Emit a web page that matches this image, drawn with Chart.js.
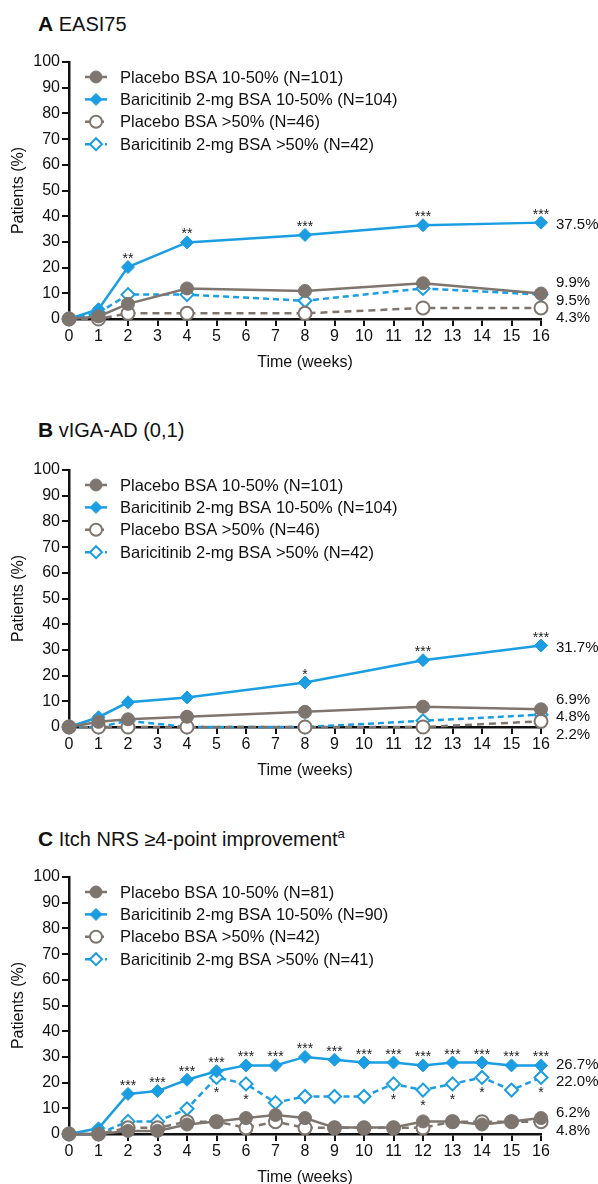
<!DOCTYPE html>
<html>
<head>
<meta charset="utf-8">
<script src="https://cdn.jsdelivr.net/npm/chart.js@4.4.1/dist/chart.umd.min.js"></script>
<style>
  body { margin: 0; background: #fff; font-family: "Liberation Sans", Arial, sans-serif; }
  #wrap { position: relative; width: 598px; height: 1184px; }
  .ttl { position: absolute; left: 38px; font-size: 20px; line-height: 24px; color: #111; white-space: nowrap; }
  .ttl b { font-size: 21px; }
  .ttl sup { font-size: 13px; }
  canvas { position: absolute; left: 0; }
</style>
</head>
<body>
<div id="wrap">
  <div class="ttl" style="top:12px"><b>A</b> EASI75</div>
  <canvas id="cA" width="598" height="339" style="top:40px"></canvas>
  <div class="ttl" style="top:418px"><b>B</b> vIGA-AD (0,1)</div>
  <canvas id="cB" width="598" height="339" style="top:448px"></canvas>
  <div class="ttl" style="top:822px"><b>C</b> Itch NRS ≥4-point improvement<sup>a</sup></div>
  <canvas id="cC" width="598" height="339" style="top:855px"></canvas>
</div>
<script>
const weeksAB = [0, 1, 2, 4, 8, 12, 16];
const weeksC = [0, 1, 2, 3, 4, 5, 6, 7, 8, 9, 10, 11, 12, 13, 14, 15, 16];

// A: EASI75
const easiPlacebo1050 = [0, 1.0, 5.9, 11.9, 10.9, 13.9, 9.9];
const easiBari1050 = [0, 3.8, 20.2, 29.8, 32.7, 36.5, 37.5];
const easiPlacebo50 = [0, 0, 2.2, 2.2, 2.2, 4.3, 4.3];
const easiBari50 = [0, 2.4, 9.5, 9.5, 7.1, 11.9, 9.5];
const easiStars = ['', '', '**', '**', '***', '***', '***'];
const easiLegend = ['Placebo BSA 10-50% (N=101)', 'Baricitinib 2-mg BSA 10-50% (N=104)',
  'Placebo BSA >50% (N=46)', 'Baricitinib 2-mg BSA >50% (N=42)'];

// B: vIGA-AD (0,1)
const igaPlacebo1050 = [0, 2.0, 3.0, 4.0, 5.9, 7.9, 6.9];
const igaBari1050 = [0, 3.8, 9.6, 11.5, 17.3, 26.0, 31.7];
const igaPlacebo50 = [0, 0, 0, 0, 0, 0, 2.2];
const igaBari50 = [0, 0, 2.4, 0, 0, 2.4, 4.8];
const igaStars = ['', '', '', '', '*', '***', '***'];
const igaLegend = easiLegend;

// C: Itch NRS >=4-point improvement
const itchPlacebo1050 = [0, 0, 1.2, 1.2, 3.7, 4.9, 6.2, 7.4, 6.2, 2.5, 2.5, 2.5, 4.9, 4.9, 3.7, 4.9, 6.2];
const itchBari1050 = [0, 2.2, 15.6, 16.7, 21.1, 24.4, 26.7, 26.7, 30.0, 28.9, 27.8, 27.8, 26.7, 27.8, 27.8, 26.7, 26.7];
const itchPlacebo50 = [0, 0, 2.4, 2.4, 4.8, 4.8, 2.4, 4.8, 2.4, 2.4, 2.4, 2.4, 2.4, 4.8, 4.8, 4.8, 4.8];
const itchBari50 = [0, 0, 4.9, 4.9, 9.8, 22.0, 19.5, 12.2, 14.6, 14.6, 14.6, 19.5, 17.1, 19.5, 22.0, 17.1, 22.0];
const itchStars = ['', '', '***', '***', '***', '***', '***', '***', '***', '***', '***', '***', '***', '***', '***', '***', '***'];
const itchStarsLow = ['', '', '', '', '', '*', '*', '', '', '', '', '*', '*', '*', '*', '', '*'];
const itchLegend = ['Placebo BSA 10-50% (N=81)', 'Baricitinib 2-mg BSA 10-50% (N=90)',
  'Placebo BSA >50% (N=42)', 'Baricitinib 2-mg BSA >50% (N=41)'];

const GRAY = '#7e756f';
const BLUE = '#1b9de2';
const FONT = '"Liberation Sans", Arial, sans-serif';
Chart.defaults.font.family = FONT;
Chart.defaults.color = '#111';

function pts(xs, ys) { return xs.map((x, i) => ({ x: x, y: ys[i] })); }

// keep the end-of-line labels from overlapping
function spread(items, gap) {
  items.sort((a, b) => a.y - b.y);
  let groups = items.map(it => ({ items: [it], c: it.y }));
  let merged = true;
  while (merged) {
    merged = false;
    for (let i = 0; i < groups.length - 1; i++) {
      const g1 = groups[i], g2 = groups[i + 1];
      const bot = g1.c + (g1.items.length - 1) * gap / 2;
      const top = g2.c - (g2.items.length - 1) * gap / 2;
      if (top - bot < gap) {
        const all = g1.items.concat(g2.items);
        const c = all.reduce((s, it) => s + it.y, 0) / all.length;
        groups.splice(i, 2, { items: all, c: c });
        merged = true;
        break;
      }
    }
  }
  groups.forEach(g => g.items.forEach((it, k) => { it.ly = g.c + (k - (g.items.length - 1) / 2) * gap; }));
}

const deco = {
  id: 'deco',
  afterDatasetsDraw(chart, args, o) {
    const { ctx, chartArea: a, scales: { x, y } } = chart;
    const sets = chart.data.datasets;
    ctx.save();

    // significance stars
    ctx.fillStyle = '#222';
    ctx.font = '14px ' + FONT;
    ctx.textAlign = 'center';
    ctx.textBaseline = 'alphabetic';
    o.starsAbove.forEach((s, i) => {
      if (!s) return;
      const p = sets[1].data[i];
      ctx.fillText(s, x.getPixelForValue(p.x), y.getPixelForValue(p.y) - 4);
    });
    (o.starsBelow || []).forEach((s, i) => {
      if (!s) return;
      const p = sets[3].data[i];
      ctx.fillText(s, x.getPixelForValue(p.x), y.getPixelForValue(p.y) + 20);
    });

    // end-of-line values
    const ends = sets.map(ds => {
      const last = ds.data[ds.data.length - 1];
      return { v: last.y, y: y.getPixelForValue(last.y) };
    });
    spread(ends, 17.5);
    ctx.fillStyle = '#111';
    ctx.font = '15px ' + FONT;
    ctx.textAlign = 'left';
    ctx.textBaseline = 'middle';
    ends.forEach(e => ctx.fillText(e.v.toFixed(1) + '%', a.right + 15, e.ly + 2));

    // legend in the upper left of the plot
    sets.forEach((ds, i) => {
      const ry = a.top + 15 + i * 22.4;
      const x0 = a.left + 16, x1 = a.left + 38, cx = (x0 + x1) / 2;
      ctx.strokeStyle = ds.borderColor;
      ctx.lineWidth = 2.5;
      ctx.setLineDash(ds.borderDash || []);
      ctx.beginPath();
      ctx.moveTo(x0, ry);
      ctx.lineTo(x1, ry);
      ctx.stroke();
      ctx.setLineDash([]);
      ctx.fillStyle = ds.pointBackgroundColor;
      ctx.strokeStyle = ds.pointBorderColor;
      ctx.lineWidth = ds.pointBorderWidth;
      Chart.helpers.drawPoint(ctx, {
        pointStyle: ds.pointStyle, radius: ds.pointRadius - 0.5, borderWidth: ds.pointBorderWidth, rotation: 0
      }, cx, ry);
      ctx.fillStyle = '#111';
      ctx.font = '16.5px ' + FONT;
      ctx.textAlign = 'left';
      ctx.textBaseline = 'middle';
      ctx.fillText(o.legend[i], a.left + 51, ry + 1);
    });
    ctx.restore();
  }
};

function series(xs, ys, kind) {
  const blue = kind === 'bari1050' || kind === 'bari50';
  const open = kind === 'placebo50' || kind === 'bari50';
  const col = blue ? BLUE : GRAY;
  return {
    data: pts(xs, ys),
    borderColor: col,
    borderWidth: 2.5,
    borderDash: open ? (blue ? [6, 4] : [7, 5]) : [],
    pointStyle: blue ? 'rectRot' : 'circle',
    pointRadius: 6.5,
    pointBackgroundColor: open ? '#fff' : col,
    pointBorderColor: col,
    pointBorderWidth: open ? 2 : 1,
    tension: 0,
    clip: false
  };
}

function makeChart(id, xs, p1050, b1050, p50, b50, legend, starsAbove, starsBelow) {
  new Chart(document.getElementById(id), {
    type: 'line',
    data: {
      datasets: [
        series(xs, p1050, 'placebo1050'),
        series(xs, b1050, 'bari1050'),
        series(xs, p50, 'placebo50'),
        series(xs, b50, 'bari50')
      ]
    },
    options: {
      responsive: false,
      animation: false,
      layout: { padding: { top: 22, right: 57, left: 0, bottom: 0 } },
      plugins: {
        legend: { display: false },
        tooltip: { enabled: false },
        deco: { legend: legend, starsAbove: starsAbove, starsBelow: starsBelow }
      },
      scales: {
        x: {
          type: 'linear', min: 0, max: 16,
          afterFit: s => { s.height = 60; },
          ticks: { stepSize: 1, autoSkip: false, maxRotation: 0, padding: 1, color: '#111', font: { size: 16 } },
          grid: { drawOnChartArea: false, drawTicks: true, tickLength: 7, color: '#111', lineWidth: 2 },
          border: { display: true, color: '#111', width: 2.5 },
          title: { display: true, text: 'Time (weeks)', color: '#111', font: { size: 16 }, padding: { top: 0, bottom: 7 } }
        },
        y: {
          min: 0, max: 100,
          afterFit: s => { s.width = 69; },
          ticks: { stepSize: 10, padding: 2, color: '#111', font: { size: 16 } },
          grid: { drawOnChartArea: false, drawTicks: true, tickLength: 7, color: '#111', lineWidth: 2 },
          border: { display: true, color: '#111', width: 2.5 },
          title: { display: true, text: 'Patients (%)', color: '#111', font: { size: 16 }, padding: { top: 9, bottom: 0 } }
        }
      }
    },
    plugins: [deco]
  });
}

makeChart('cA', weeksAB, easiPlacebo1050, easiBari1050, easiPlacebo50, easiBari50, easiLegend, easiStars);
makeChart('cB', weeksAB, igaPlacebo1050, igaBari1050, igaPlacebo50, igaBari50, igaLegend, igaStars);
makeChart('cC', weeksC, itchPlacebo1050, itchBari1050, itchPlacebo50, itchBari50, itchLegend, itchStars, itchStarsLow);
</script>
</body>
</html>
